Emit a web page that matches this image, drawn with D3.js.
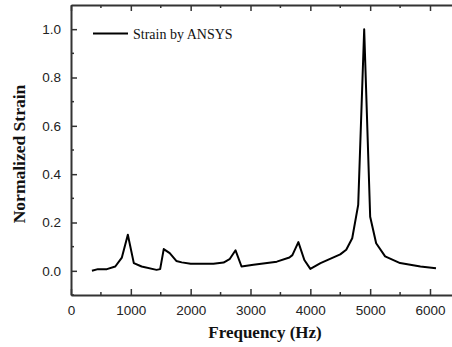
<!DOCTYPE html>
<html><head><meta charset="utf-8">
<script src="https://cdn.jsdelivr.net/npm/d3@7"></script>
<style>body{margin:0;background:#fff}svg{display:block}</style>
</head><body>
<script>
const freq = [350,450,600,740,850,950,1050,1180,1430,1490,1550,1650,1760,1850,2000,2380,2550,2650,2750,2850,3050,3440,3650,3700,3800,3900,4000,4170,4500,4600,4700,4800,4900,5000,5100,5250,5500,5840,6100];
const strain = [0.0,0.007,0.007,0.018,0.055,0.149,0.032,0.018,0.004,0.007,0.09,0.073,0.041,0.035,0.029,0.029,0.034,0.048,0.085,0.018,0.025,0.038,0.055,0.065,0.119,0.045,0.008,0.032,0.068,0.087,0.135,0.273,1.0,0.224,0.114,0.06,0.032,0.018,0.011];
const xTicks = [0,1000,2000,3000,4000,5000,6000];
const yTicks = [0.0,0.2,0.4,0.6,0.8,1.0];
const seriesName = "Strain by ANSYS";
const xTitle = "Frequency (Hz)";
const yTitle = "Normalized Strain";

const W = 452, H = 347;
const L = 71, T = 5, B = 295;
const svg = d3.select("body").append("svg").attr("width", W).attr("height", H);
const x = d3.scaleLinear().domain([0, 6500]).range([L, L + 6500 * 359 / 6000]);
const y = d3.scaleLinear().domain([-0.1, 1.1]).range([B, T]);
const axisColor = "#333";

const xMinor = d3.range(500, 6500, 1000);
const yMinor = [-0.1, 0.1, 0.3, 0.5, 0.7, 0.9];

const gx = svg.append("g").attr("transform", `translate(0,${B})`)
  .call(d3.axisBottom(x).tickValues(xTicks).tickSizeInner(-6).tickSizeOuter(0).tickPadding(10).tickFormat(d3.format("d")));
gx.selectAll("text").attr("dy", "0.71em");
const gt = svg.append("g").attr("transform", `translate(0,${T})`)
  .call(d3.axisTop(x).tickValues(xTicks).tickSizeInner(-6).tickSizeOuter(0).tickFormat(""));
const gy = svg.append("g").attr("transform", `translate(${L},0)`)
  .call(d3.axisLeft(y).tickValues(yTicks).tickSizeInner(-6).tickSizeOuter(0).tickPadding(10).tickFormat(d3.format(".1f")));

[gx, gt, gy].forEach(g => {
  g.select(".domain").attr("stroke", axisColor).attr("stroke-width", 2);
  g.selectAll(".tick line").attr("stroke", axisColor).attr("stroke-width", 1.5);
  g.selectAll("text").attr("fill", "#222").style("font-family", "'Liberation Sans', Arial, sans-serif").style("font-size", "13.5px");
});

svg.append("g").selectAll("line.mb").data(xMinor).join("line")
  .attr("x1", d => x(d)).attr("x2", d => x(d)).attr("y1", B).attr("y2", B - 3)
  .attr("stroke", axisColor).attr("stroke-width", 1.5);
svg.append("g").selectAll("line.mt").data(xMinor).join("line")
  .attr("x1", d => x(d)).attr("x2", d => x(d)).attr("y1", T).attr("y2", T + 3)
  .attr("stroke", axisColor).attr("stroke-width", 1.5);
svg.append("g").selectAll("line.ml").data(yMinor).join("line")
  .attr("x1", L).attr("x2", L + 3).attr("y1", d => y(d)).attr("y2", d => y(d))
  .attr("stroke", axisColor).attr("stroke-width", 1.5);

const data = freq.map((f, i) => [f, strain[i]]);
svg.append("path").datum(data)
  .attr("fill", "none").attr("stroke", "#000").attr("stroke-width", 2).attr("stroke-linejoin", "round")
  .attr("d", d3.line().x(d => x(d[0])).y(d => y(d[1])));

svg.append("line").attr("x1", 93).attr("x2", 128).attr("y1", 33.5).attr("y2", 33.5)
  .attr("stroke", "#000").attr("stroke-width", 2);
svg.append("text").attr("x", 133).attr("y", 38.5).text(seriesName)
  .style("font-family", "'Liberation Serif', 'Times New Roman', serif").style("font-size", "14px").attr("fill", "#111");

svg.append("text").attr("x", 265).attr("y", 338).attr("text-anchor", "middle").text(xTitle)
  .style("font-family", "'Liberation Serif', 'Times New Roman', serif").style("font-size", "17px").style("font-weight", "bold").attr("fill", "#111");
svg.append("text").attr("transform", "translate(25,154) rotate(-90)").attr("text-anchor", "middle").text(yTitle)
  .style("font-family", "'Liberation Serif', 'Times New Roman', serif").style("font-size", "17.5px").style("font-weight", "bold").attr("fill", "#111");
</script>
</body></html>
